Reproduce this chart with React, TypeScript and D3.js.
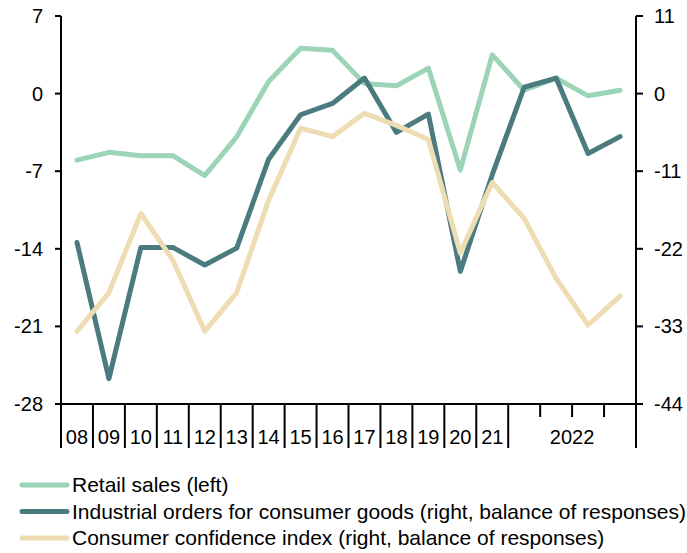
import React from "react";
import * as d3 from "d3";

const categories = ["08","09","10","11","12","13","14","15","16","17","18","19","20","21","2022Q1","2022Q2","2022Q3","2022Q4"];
const yearLabels = ["08","09","10","11","12","13","14","15","16","17","18","19","20","21"];
const lastYearLabel = "2022";
const retailSales = [-6.0,-5.3,-5.6,-5.6,-7.4,-3.9,1.1,4.1,3.9,0.9,0.7,2.3,-6.9,3.5,0.3,1.4,-0.2,0.3];
const industrialOrders = [-21.1,-40.4,-21.8,-21.8,-24.3,-21.9,-9.3,-3.0,-1.4,2.2,-5.5,-2.9,-25.2,-11.5,0.9,2.2,-8.5,-6.1];
const consumerConfidence = [-33.7,-28.2,-17.0,-23.6,-33.7,-28.2,-15.1,-4.9,-6.1,-2.8,-4.5,-6.5,-22.6,-12.6,-17.7,-26.2,-32.8,-28.7];
const leftTicks = [7,0,-7,-14,-21,-28];
const rightTicks = [11,0,-11,-22,-33,-44];
const legendLabels = [
  "Retail sales (left)",
  "Industrial orders for consumer goods (right, balance of responses)",
  "Consumer confidence index (right, balance of responses)",
];

const W = 687, H = 553;
const L = 61, R = 636, T = 16, B = 404;
const colors = ["#9bd4b6", "#4a7b7f", "#eedcb2"];
const font = "'Liberation Sans', Arial, sans-serif";

export default function App() {
  const x = d3.scaleBand<number>().domain(d3.range(categories.length)).range([L, R]).padding(0);
  const yL = d3.scaleLinear().domain([-28, 7]).range([B, T]);
  const yR = d3.scaleLinear().domain([-44, 11]).range([B, T]);
  const cx = (i: number) => (x(i) as number) + x.bandwidth() / 2;
  const lineL = d3.line<number>().x((_, i) => cx(i)).y((d) => yL(d));
  const lineR = d3.line<number>().x((_, i) => cx(i)).y((d) => yR(d));
  const edges = d3.range(categories.length + 1).map((i) => L + i * x.bandwidth());
  const fs = 20;
  const lfs = 21;
  return (
    <svg width={W} height={H} style={{ position: "absolute", left: 0, top: 0 }} fontFamily={font}>
      <rect width={W} height={H} fill="#fff" />
      {/* lines */}
      <path d={lineL(retailSales) || ""} fill="none" stroke={colors[0]} strokeWidth={5} strokeLinejoin="round" strokeLinecap="round" />
      <path d={lineR(industrialOrders) || ""} fill="none" stroke={colors[1]} strokeWidth={5} strokeLinejoin="round" strokeLinecap="round" />
      <path d={lineR(consumerConfidence) || ""} fill="none" stroke={colors[2]} strokeWidth={5} strokeLinejoin="round" strokeLinecap="round" />
      {/* axes */}
      <line x1={L} x2={L} y1={T} y2={B} stroke="#000" strokeWidth={2} />
      <line x1={R} x2={R} y1={T} y2={B} stroke="#000" strokeWidth={2} />
      <line x1={L - 6} x2={R + 7} y1={B} y2={B} stroke="#000" strokeWidth={2} />
      {leftTicks.map((t) => (
        <g key={"l" + t}>
          <line x1={L - 6} x2={L} y1={yL(t)} y2={yL(t)} stroke="#000" strokeWidth={2} />
          <text x={43} y={yL(t)} dy="0.35em" textAnchor="end" fontSize={fs}>{t}</text>
        </g>
      ))}
      {rightTicks.map((t) => (
        <g key={"r" + t}>
          <line x1={R} x2={R + 7} y1={yR(t)} y2={yR(t)} stroke="#000" strokeWidth={2} />
          <text x={654} y={yR(t)} dy="0.35em" textAnchor="start" fontSize={fs}>{t}</text>
        </g>
      ))}
      {edges.map((e, i) => {
        const minor = i > yearLabels.length && i < categories.length;
        return <line key={"e" + i} x1={e} x2={e} y1={B} y2={minor ? 417 : 448} stroke="#000" strokeWidth={2} />;
      })}
      {yearLabels.map((lab, i) => (
        <text key={"y" + i} x={cx(i)} y={437} dy="0.35em" textAnchor="middle" fontSize={fs}>{lab}</text>
      ))}
      <text x={(edges[yearLabels.length] + edges[categories.length]) / 2} y={437} dy="0.35em" textAnchor="middle" fontSize={fs}>{lastYearLabel}</text>
      {/* legend */}
      {legendLabels.map((lab, i) => (
        <g key={"lg" + i}>
          <line x1={22} x2={67} y1={485 + i * 26.5} y2={485 + i * 26.5} stroke={colors[i]} strokeWidth={5} strokeLinecap="round" />
          <text x={72} y={485 + i * 26.5} dy="0.35em" fontSize={lfs}>{lab}</text>
        </g>
      ))}
    </svg>
  );
}
